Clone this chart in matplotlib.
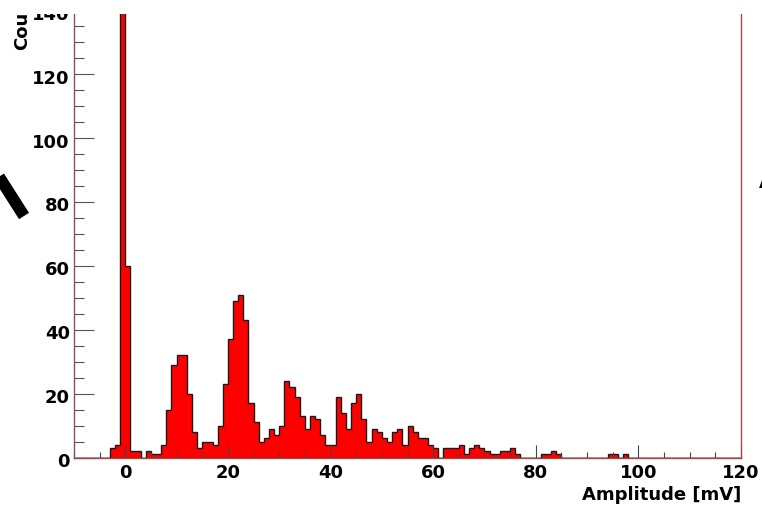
import numpy as np
import matplotlib
matplotlib.use("Agg")
import matplotlib.pyplot as plt
from matplotlib.ticker import MultipleLocator
from matplotlib.patches import Rectangle
from matplotlib.lines import Line2D
from matplotlib.transforms import ScaledTranslation

# ---- data: histogram of amplitudes, 1 mV bins from -10 to 120 mV ----
bin_low = -10
bin_high = 120
counts = [
    0, 0, 0, 0, 0, 0, 0, 3, 4, 320,          # -10 .. -1
    60, 2, 2, 0, 2, 1, 1, 4, 15, 29,          # 0 .. 9
    32, 32, 20, 8, 3, 5, 5, 4, 10, 23,        # 10 .. 19
    37, 49, 51, 43, 17, 11, 5, 6, 9, 7,       # 20 .. 29
    10, 24, 22, 19, 13, 9, 13, 12, 7, 4,      # 30 .. 39
    4, 19, 14, 9, 17, 20, 12, 5, 9, 8,        # 40 .. 49
    6, 5, 8, 9, 4, 10, 8, 6, 6, 4,            # 50 .. 59
    3, 0, 3, 3, 3, 4, 1, 3, 4, 3,             # 60 .. 69
    2, 1, 1, 2, 2, 3, 1, 0, 0, 0,             # 70 .. 79
    0, 1, 1, 2, 1, 0, 0, 0, 0, 0,             # 80 .. 89
    0, 0, 0, 0, 1, 1, 0, 1, 0, 0,             # 90 .. 99
    0, 0, 0, 0, 0, 0, 0, 0, 0, 0,             # 100 .. 109
    0, 0, 0, 0, 0, 0, 0, 0, 0, 0,             # 110 .. 119
]
x_ticks = [0, 20, 40, 60, 80, 100, 120]
y_ticks = [0, 20, 40, 60, 80, 100, 120, 140]
x_label = "Amplitude [mV]"
y_label = "Counts"

edges = np.arange(bin_low, bin_high + 1, 1)
centers = edges[:-1] + 0.5

W, H = 762, 508
fig = plt.figure(figsize=(W / 100, H / 100), dpi=100)
fig.patch.set_facecolor("white")

# axes placement in pixels
left_px, right_px = 74, 741
zero_px = 457.5
px_per_count = 3.195
ymax = 145
top_px = zero_px - ymax * px_per_count
ax = fig.add_axes([left_px / W, 1 - zero_px / H,
                   (right_px - left_px) / W, (zero_px - top_px) / H])

ax.hist(centers, bins=edges, weights=counts, histtype="stepfilled",
        facecolor="#ff0000", edgecolor="#1a1a1a", linewidth=1.0, zorder=1)

ax.set_xlim(bin_low, bin_high)
ax.set_ylim(0, ymax)

frame_col = "#a84848"
for s in ["left", "right", "bottom", "top"]:
    ax.spines[s].set_color(frame_col)
    ax.spines[s].set_linewidth(1.0)
ax.spines["left"].set_color("#8a5050")

font = {"family": "DejaVu Sans", "weight": "bold", "size": 13}

ax.set_xticks(x_ticks)
ax.set_yticks(y_ticks)
ax.xaxis.set_minor_locator(MultipleLocator(5))
ax.yaxis.set_minor_locator(MultipleLocator(5))
ax.tick_params(axis="x", which="major", direction="in", length=9.4, width=0.8,
               color="#444444", pad=5, top=False)
ax.tick_params(axis="x", which="minor", direction="in", length=4.3, width=0.8,
               color="#444444", top=False)
ax.tick_params(axis="y", which="major", direction="in", length=14.4, width=0.8,
               color="#555555", pad=3, right=False)
ax.tick_params(axis="y", which="minor", direction="in", length=7, width=0.8,
               color="#555555", right=False)
ax.set_xticklabels([str(v) for v in x_ticks], fontdict=font)
ax.set_yticklabels([str(v) for v in y_ticks], fontdict=font)
# ROOT places the y labels a little below their ticks
shift = ScaledTranslation(0, -2.5 / 100, fig.dpi_scale_trans)
for lab in ax.get_yticklabels():
    lab.set_transform(lab.get_transform() + shift)

# axis titles (ROOT style: at the end of the axes)
fig.text(right_px / W, 1 - 495 / H, x_label, ha="right", va="center", **font)
fig.text(22 / W, 1 - 50 / H, y_label, ha="center", va="bottom",
         rotation=90, **font)

# fragments of surrounding annotation
fig.add_artist(Line2D([-4 / W, 24 / W], [1 - 172 / H, 1 - 216 / H],
                      color="black", linewidth=8.5, solid_capstyle="butt",
                      transform=fig.transFigure))
fig.text(759 / W, 1 - 188 / H, "A", ha="left", va="baseline", **font)

# top of image is blank (cropped)
fig.add_artist(Rectangle((0, 1 - 13.5 / H), 1, 13.5 / H, transform=fig.transFigure,
                         facecolor="white", edgecolor="none", zorder=100))

fig.savefig("out.png", dpi=100, facecolor="white")
